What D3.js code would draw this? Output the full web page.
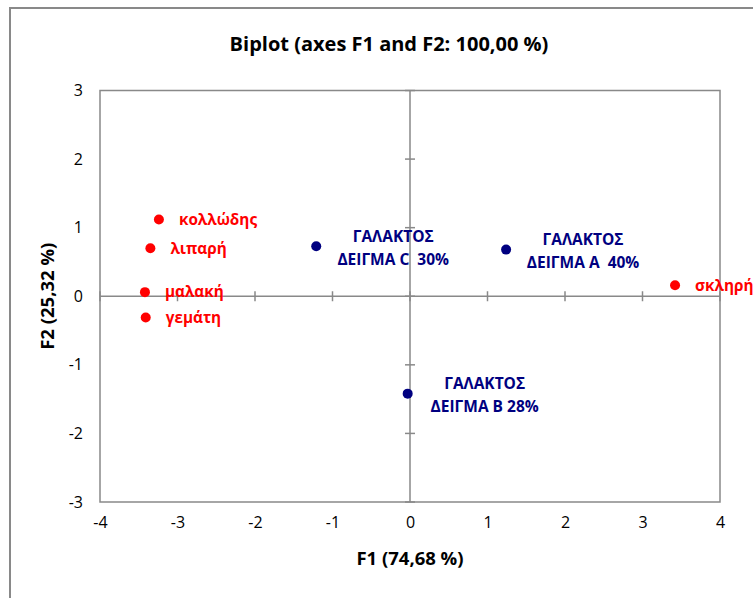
<!DOCTYPE html>
<html>
<head>
<meta charset="utf-8">
<script src="https://cdn.jsdelivr.net/npm/d3@7"></script>
<style>
  html, body { margin: 0; padding: 0; background: #fff; }
  svg { display: block; }
  text { font-family: "Open Sans", sans-serif; white-space: pre; }
</style>
</head>
<body>
<svg id="chart" width="753" height="598"></svg>
<script>
// Variables (active attributes) projected on F1/F2
const variableNames = ["κολλώδης", "λιπαρή", "μαλακή", "γεμάτη", "σκληρή"];
const variableF1 = [-3.24, -3.35, -3.42, -3.41, 3.42];
const variableF2 = [1.12, 0.70, 0.06, -0.31, 0.16];

// Observations (milk samples)
const sampleLine1 = ["ΓΑΛΑΚΤΟΣ", "ΓΑΛΑΚΤΟΣ", "ΓΑΛΑΚΤΟΣ"];
const sampleLine2 = ["ΔΕΙΓΜΑ C  30%", "ΔΕΙΓΜΑ Α  40%", "ΔΕΙΓΜΑ Β 28%"];
const sampleF1 = [-1.21, 1.24, -0.03];
const sampleF2 = [0.73, 0.68, -1.42];

// Axis ticks
const xTicks = [-4, -3, -2, -1, 0, 1, 2, 3, 4];
const yTicks = [-3, -2, -1, 0, 1, 2, 3];

const title = "Biplot (axes F1 and F2: 100,00 %)";
const xTitle = "F1 (74,68 %)";
const yTitle = "F2 (25,32 %)";

const svg = d3.select("#chart");
const W = 753, H = 598;
const plot = { left: 100, top: 90.5, right: 720, bottom: 502 };

const x = d3.scaleLinear().domain([-4, 4]).range([plot.left, plot.right]);
const y = d3.scaleLinear().domain([-3, 3]).range([plot.bottom, plot.top]);

const grey = "#898989";
const red = "#ff0000";
const navy = "#000080";
const font = "'Open Sans', sans-serif";

// Outer chart frame
svg.append("rect")
  .attr("x", 10).attr("y", 8)
  .attr("width", W + 20).attr("height", H + 20)
  .attr("fill", "none").attr("stroke", grey).attr("stroke-width", 2);

// Title
svg.append("text")
  .attr("x", 389).attr("y", 51)
  .attr("text-anchor", "middle")
  .attr("font-size", 20).attr("font-weight", "bold")
  .attr("fill", "#000")
  .text(title);

// Plot frame
svg.append("rect")
  .attr("x", plot.left).attr("y", plot.top)
  .attr("width", plot.right - plot.left).attr("height", plot.bottom - plot.top)
  .attr("fill", "none").attr("stroke", grey).attr("stroke-width", 1.5);

// Tick labels along plot edges
const xAxis = d3.axisBottom(x).tickValues(xTicks).tickFormat(d => String(d))
  .tickSize(0).tickPadding(15);
const gx = svg.append("g").attr("transform", `translate(0,${plot.bottom})`).call(xAxis);
gx.select(".domain").remove();
gx.selectAll("text").attr("font-size", 16).attr("fill", "#000").attr("font-family", font);

const yAxis = d3.axisLeft(y).tickValues(yTicks).tickFormat(d => String(d))
  .tickSize(0).tickPadding(17);
const gy = svg.append("g").attr("transform", `translate(${plot.left},0)`).call(yAxis);
gy.select(".domain").remove();
gy.selectAll("text").attr("font-size", 16).attr("fill", "#000").attr("font-family", font);

// Central axes through the origin, with crossing tick marks
const axes = svg.append("g").attr("stroke", grey).attr("stroke-width", 1.5);
axes.append("line")
  .attr("x1", plot.left).attr("x2", plot.right)
  .attr("y1", y(0)).attr("y2", y(0));
axes.append("line")
  .attr("x1", x(0)).attr("x2", x(0))
  .attr("y1", plot.top).attr("y2", plot.bottom);
axes.selectAll(".xt").data(xTicks).join("line")
  .attr("class", "xt")
  .attr("x1", d => x(d)).attr("x2", d => x(d))
  .attr("y1", y(0) - 5).attr("y2", y(0) + 5);
axes.selectAll(".yt").data(yTicks).join("line")
  .attr("class", "yt")
  .attr("x1", x(0) - 5).attr("x2", x(0) + 5)
  .attr("y1", d => y(d)).attr("y2", d => y(d));

// Axis titles
svg.append("text")
  .attr("x", (plot.left + plot.right) / 2).attr("y", 565)
  .attr("text-anchor", "middle")
  .attr("font-size", 18.5).attr("font-weight", "bold")
  .text(xTitle);
svg.append("text")
  .attr("transform", `translate(54,${(plot.top + plot.bottom) / 2}) rotate(-90)`)
  .attr("text-anchor", "middle")
  .attr("font-size", 18.5).attr("font-weight", "bold")
  .text(yTitle);

// Variables: red points with labels to the right
const vars = variableNames.map((name, i) => ({ name, f1: variableF1[i], f2: variableF2[i] }));
svg.append("g").selectAll("circle").data(vars).join("circle")
  .attr("cx", d => x(d.f1)).attr("cy", d => y(d.f2))
  .attr("r", 5).attr("fill", red);
svg.append("g").selectAll("text").data(vars).join("text")
  .attr("x", d => x(d.f1) + 20).attr("y", d => y(d.f2))
  .attr("dy", "0.35em")
  .attr("font-size", 15.3).attr("font-weight", "bold")
  .attr("fill", red)
  .text(d => d.name);

// Observations: navy points with two-line labels
const samples = sampleF1.map((f1, i) => ({ f1, f2: sampleF2[i], l1: sampleLine1[i], l2: sampleLine2[i] }));
svg.append("g").selectAll("circle").data(samples).join("circle")
  .attr("cx", d => x(d.f1)).attr("cy", d => y(d.f2))
  .attr("r", 5).attr("fill", navy);
const lbl = svg.append("g").selectAll("text").data(samples).join("text")
  .attr("text-anchor", "middle")
  .attr("font-size", 15.5).attr("font-weight", "bold")
  .attr("fill", navy);
lbl.append("tspan")
  .attr("x", d => x(d.f1) + 77).attr("y", d => y(d.f2) - 10)
  .attr("dy", "0.35em")
  .text(d => d.l1);
lbl.append("tspan")
  .attr("x", d => x(d.f1) + 77).attr("y", d => y(d.f2) + 13)
  .attr("dy", "0.35em")
  .text(d => d.l2);
</script>
</body>
</html>
